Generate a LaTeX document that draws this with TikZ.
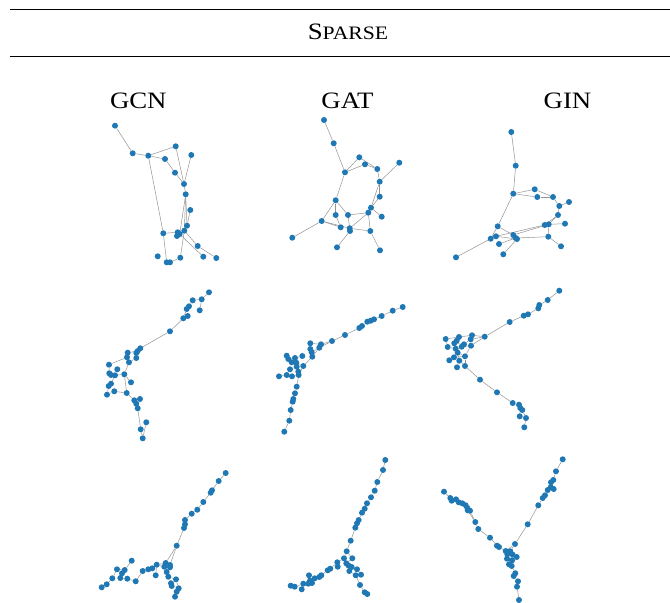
\documentclass[tikz,border=0pt]{standalone}
\usepackage{fontspec}
\setmainfont{Liberation Serif}
\usetikzlibrary{backgrounds}
\definecolor{nodeblue}{RGB}{31,119,180}
\tikzset{
  dot/.style={circle, fill=nodeblue, inner sep=0pt, minimum size=6pt},
  edge/.style={draw=gray!85, line width=0.5pt},
  head/.style={anchor=base, inner sep=0pt, font=\fontsize{23.5}{26}\selectfont},
}
\newcommand{\wide}[1]{\scalebox{1.14}[1]{#1}}
\begin{document}
\begin{tikzpicture}[x=1pt, y=-1pt]
\useasboundingbox (0,0) rectangle (670,603);
\draw[line width=0.8pt] (9.7,9.7) -- (670,9.7);
\draw[line width=0.8pt] (9.7,56.7) -- (670,56.7);
\node[head] (sparse) at (348,39) {\wide{S\fontsize{19}{20}\selectfont PARSE}};
\node[head] (gcn) at (138.3,108.3) {\wide{GCN}};
\node[head] (gat) at (347.5,108.3) {\wide{GAT}};
\node[head] (gin) at (567.5,108.3) {\wide{GIN}};

\foreach \n/\x/\y in {a1/115/125.7, a2/132.7/153.3, a3/148.3/155.7, a4/175.7/146.3, a5/165/159, a6/191.3/155, a7/175/172.7, a8/184/184, a9/185.7/194.3, a10/190.3/210, a11/187/225.7, a12/184.3/230.7, a13/163.3/233.3, a14/177.7/232.3, a15/177/236, a16/179.7/234, a17/197.7/246, a18/203.3/256.7, a19/216.3/258, a20/157.7/256.3, a21/166.7/262.3, a22/170/262.3, a23/180.3/257.7}
  \node[dot] (\n) at (\x,\y) {};
\foreach \n/\x/\y in {b1/324/120, b2/333.7/143.3, b3/345/172.3, b4/359.3/157.3, b5/365/164.3, b6/377.3/169, b7/399.3/162.7, b8/379.7/181.7, b9/379.7/196.7, b10/371/207.7, b11/368.3/212.7, b12/381.7/216.7, b13/335.7/200.3, b14/335.7/215, b15/348/215, b16/321.7/221, b17/340.7/227.3, b18/349.7/228.3, b19/350/231, b20/370.3/231, b21/292.3/237.7, b22/337/247.3, b23/380/250.3}
  \node[dot] (\n) at (\x,\y) {};
\foreach \n/\x/\y in {c1/511.3/132, c2/515.7/165.7, c3/513.3/193.7, c4/534.7/189.3, c5/537.3/197, c6/553/197, c7/569/202, c8/559.3/206, c9/558/215, c10/565/223.7, c11/544.7/225, c12/548.7/224.3, c13/497.7/226.3, c14/490.7/238.7, c15/496/236.3, c16/513.3/235, c17/515.7/238, c18/517/239, c19/548.3/236.7, c20/561/246.3, c21/499/244, c22/503.3/254.3, c23/456/257.3}
  \node[dot] (\n) at (\x,\y) {};
\foreach \n/\x/\y in {d1/209/292.3, d2/201.7/299.3, d3/192.7/300.3, d4/199.7/310.3, d5/189/306.3, d6/186.7/309, d7/187.7/316, d8/183.3/318.3, d9/170/331.3, d10/140.3/348.3, d11/137.7/351, d12/136.3/353, d13/127.7/352.7, d14/127/357.3, d15/136.3/358, d16/129/362.3, d17/109/364.7, d18/117.3/369.3, d19/109.3/373.3, d20/111/375, d21/115/375.3, d22/124.3/374.3, d23/131/382.3, d24/111/383.7, d25/108.7/386, d26/107/394.7, d27/114.3/391.3, d28/126.7/393, d29/134.3/400.3, d30/140/399, d31/136.3/403.7, d32/137.7/408.3, d33/146.3/422.3, d34/140.7/429.3, d35/142.7/438.3}
  \node[dot] (\n) at (\x,\y) {};
\foreach \n/\x/\y in {e1/402.7/307, e2/392.7/310.7, e3/381.7/316, e4/374/319.3, e5/370.7/320.7, e6/367.3/321.7, e7/362/326, e8/359.3/328, e9/345/335, e10/332/341, e11/321/344.3, e12/319.3/347.7, e13/310.3/343.3, e14/310.3/349, e15/311.7/352.3, e16/312.3/356.7, e17/302.3/356, e18/286.7/355.7, e19/288.3/359, e20/295/358, e21/291.7/362.3, e22/296.3/362.7, e23/303.3/366, e24/296.7/366.7, e25/290/369.3, e26/298.3/371.7, e27/286.7/375, e28/279/376.3, e29/292/376.3, e30/298.7/375, e31/296.7/386.7, e32/295/393.3, e33/293.3/399, e34/292.7/401.7, e35/290.7/410, e36/289.3/420.7, e37/284.3/431.7}
  \node[dot] (\n) at (\x,\y) {};
\foreach \n/\x/\y in {f1/559.3/290.7, f2/547.7/300, f3/539.3/305, f4/538.3/308.3, f5/528/314.3, f6/523.7/315.7, f7/509.7/322, f8/484.7/336.7, f9/472/335.3, f10/470.7/339.3, f11/459/337, f12/445.7/339, f13/456.7/340.7, f14/454.3/343.3, f15/464/344.3, f16/461.7/346.7, f17/471/345.7, f18/447.7/347, f19/455.7/348.7, f20/457.7/352.7, f21/465/356.3, f22/454/357.3, f23/449.3/360.3, f24/459.3/360.7, f25/465/366, f26/457/367.3, f27/480/379.7, f28/497/392.3, f29/512.7/403, f30/519/404.7, f31/520.3/408, f32/522.3/410, f33/519.7/416.3, f34/526/418, f35/524.3/427.3}
  \node[dot] (\n) at (\x,\y) {};
\foreach \n/\x/\y in {g1/225.7/473, g2/218.7/481, g3/212/490.3, g4/210.7/492.7, g5/203.3/502, g6/197.3/509.7, g7/191.7/513.7, g8/185/520, g9/185/524.3, g10/184/528, g11/176.7/545.7, g12/165.7/563, g13/170/565, g14/164.3/566.7, g15/170/567.3, g16/156.7/564.7, g17/152.3/568.3, g18/148.3/569.3, g19/142.7/571, g20/155.7/575.3, g21/131.7/560.7, g22/124.7/570, g23/117/569.3, g24/122/573.3, g25/120.3/578, g26/127.3/578.7, g27/112.3/578.3, g28/135.7/581.3, g29/106.7/584.3, g30/101.7/587.3, g31/166.7/572, g32/168.3/576.7, g33/176/579.3, g34/171/583.3, g35/171.7/586, g36/178.7/588.3, g37/176.7/591.7, g38/175/596.7}
  \node[dot] (\n) at (\x,\y) {};
\foreach \n/\x/\y in {h1/385.3/460, h2/383/470, h3/377.3/482, h4/374.7/490.7, h5/371/497.3, h6/367/503.3, h7/364.7/508.7, h8/362/512.7, h9/358.7/520, h10/357/523.3, h11/355.3/527.7, h12/350.7/540.7, h13/346.7/551.3, h14/344/558.3, h15/352.3/558.3, h16/346.3/563.3, h17/337.3/562.3, h18/337.7/566.7, h19/348.3/565.3, h20/351.7/567, h21/349.3/571, h22/357/569.3, h23/355.7/575.3, h24/361/574.7, h25/360/585, h26/364.7/592.3, h27/367.3/594, h28/330.3/568.7, h29/327.7/570.3, h30/321.3/575.3, h31/319.3/577, h32/314.7/578.3, h33/309/575.3, h34/310/580.7, h35/312/583, h36/308.3/583.7, h37/303.3/583.7, h38/301.7/589.3, h39/294.7/586.7, h40/290.7/585.7}
  \node[dot] (\n) at (\x,\y) {};
\foreach \n/\x/\y in {i1/562.7/459.3, i2/556/471.3, i3/553.3/480, i4/551/482.3, i5/550.7/487.3, i6/553.7/489, i7/547.7/490, i8/545/495.3, i9/542.7/498, i10/538.3/505.3, i11/527.7/524.3, i12/515/544, i13/444/491.7, i14/450.3/498, i15/451.7/500.7, i16/456/499.3, i17/458.7/502.3, i18/462.3/503.3, i19/465.7/505.3, i20/467.3/508, i21/470/510.7, i22/467.7/510.3, i23/475.3/522, i24/478.3/529, i25/490/537.7, i26/497/545.7, i27/499/547, i28/505.7/551, i29/510.3/551.3, i30/507.3/554.3, i31/512.7/554.7, i32/516.7/557, i33/507/558.7, i34/512/560.3, i35/509/564.3, i36/511.7/566, i37/515.3/573.3, i38/513.7/576, i39/518/581.3, i40/517/586.7, i41/519/600}
  \node[dot] (\n) at (\x,\y) {};

\begin{scope}[on background layer]
\foreach \s/\t in {a1/a2, a2/a3, a3/a4, a3/a5, a5/a7, a7/a8, a4/a8, a6/a8, a8/a9, a9/a11, a9/a12, a9/a16, a10/a11, a3/a13, a13/a14, a13/a21, a21/a22, a22/a23, a23/a12, a12/a17, a17/a19, a14/a18, a14/a15, a15/a16, a16/a12}
  \draw[edge] (\s) -- (\t);
\foreach \s/\t in {b1/b2, b2/b3, b3/b4, b3/b5, b4/b6, b5/b6, b6/b8, b7/b8, b8/b9, b8/b10, b9/b10, b10/b11, b10/b12, b3/b13, b13/b14, b13/b15, b13/b16, b16/b17, b16/b18, b14/b17, b15/b18, b15/b11, b18/b11, b18/b20, b11/b20, b20/b23, b19/b22, b16/b21, b18/b19}
  \draw[edge] (\s) -- (\t);
\foreach \s/\t in {c1/c2, c2/c3, c3/c4, c3/c5, c4/c6, c5/c6, c6/c8, c7/c8, c8/c9, c9/c11, c9/c12, c12/c10, c3/c13, c13/c14, c13/c16, c14/c23, c14/c15, c15/c18, c11/c15, c12/c16, c16/c17, c17/c19, c19/c20, c19/c12, c18/c22, c17/c21}
  \draw[edge] (\s) -- (\t);
\foreach \s/\t in {d1/d2, d2/d4, d2/d3, d3/d5, d5/d6, d6/d8, d7/d8, d8/d9, d9/d10, d10/d11, d11/d12, d12/d15, d11/d13, d13/d14, d14/d17, d17/d19, d19/d20, d20/d21, d21/d22, d22/d16, d16/d15, d22/d28, d22/d23, d21/d24, d24/d25, d25/d26, d26/d27, d27/d28, d28/d29, d29/d30, d29/d31, d31/d32, d32/d34, d34/d35, d35/d33, d18/d21, d14/d16}
  \draw[edge] (\s) -- (\t);
\foreach \s/\t in {e1/e2, e2/e3, e3/e4, e4/e5, e5/e6, e6/e7, e7/e8, e8/e9, e9/e10, e10/e11, e10/e12, e11/e13, e13/e14, e14/e15, e12/e15, e15/e16, e16/e23, e12/e16, e17/e20, e18/e19, e19/e20, e20/e22, e21/e22, e22/e23, e23/e24, e24/e25, e22/e26, e26/e30, e23/e30, e25/e27, e27/e28, e27/e29, e29/e30, e30/e31, e31/e32, e32/e33, e33/e34, e34/e35, e35/e36, e36/e37}
  \draw[edge] (\s) -- (\t);
\foreach \s/\t in {f1/f2, f2/f3, f3/f4, f4/f5, f5/f6, f6/f7, f7/f8, f8/f9, f8/f10, f8/f17, f9/f11, f10/f15, f11/f12, f11/f13, f12/f18, f13/f14, f14/f15, f15/f16, f16/f17, f17/f21, f18/f19, f19/f20, f20/f21, f20/f24, f21/f22, f22/f23, f22/f24, f24/f25, f24/f26, f21/f25, f25/f27, f27/f28, f28/f29, f29/f30, f30/f31, f31/f32, f32/f34, f31/f33, f34/f35}
  \draw[edge] (\s) -- (\t);
\foreach \s/\t in {g1/g2, g2/g3, g3/g4, g4/g5, g5/g6, g6/g7, g7/g8, g8/g9, g9/g10, g10/g11, g11/g12, g11/g13, g12/g14, g13/g15, g12/g16, g14/g16, g16/g17, g17/g18, g18/g19, g16/g20, g19/g28, g21/g22, g22/g23, g23/g27, g22/g24, g24/g25, g25/g26, g26/g28, g27/g29, g29/g30, g14/g31, g15/g31, g31/g32, g32/g33, g32/g34, g34/g35, g35/g36, g36/g37, g37/g38, g33/g36}
  \draw[edge] (\s) -- (\t);
\foreach \s/\t in {h1/h2, h2/h3, h3/h4, h4/h5, h5/h6, h6/h7, h7/h8, h8/h9, h9/h10, h10/h11, h11/h12, h12/h13, h13/h14, h13/h15, h14/h16, h14/h17, h15/h16, h16/h19, h19/h20, h20/h22, h19/h21, h21/h23, h22/h24, h23/h25, h25/h26, h26/h27, h17/h18, h17/h28, h28/h29, h29/h30, h30/h31, h31/h32, h32/h33, h32/h34, h34/h35, h35/h36, h36/h37, h37/h38, h37/h39, h39/h40}
  \draw[edge] (\s) -- (\t);
\foreach \s/\t in {i1/i2, i2/i3, i3/i4, i4/i5, i5/i6, i6/i7, i7/i8, i8/i9, i9/i10, i10/i11, i11/i12, i12/i28, i12/i29, i13/i14, i14/i15, i14/i16, i16/i17, i17/i18, i18/i19, i19/i20, i20/i21, i20/i22, i21/i23, i22/i23, i23/i24, i24/i25, i25/i26, i26/i27, i27/i28, i28/i30, i29/i31, i31/i32, i30/i33, i33/i34, i34/i35, i35/i36, i32/i36, i36/i37, i37/i38, i38/i39, i39/i40, i40/i41}
  \draw[edge] (\s) -- (\t);
\end{scope}
\end{tikzpicture}
\end{document}
